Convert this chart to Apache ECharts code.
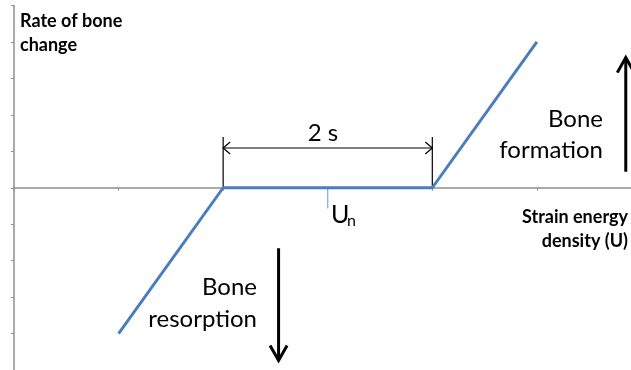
<!DOCTYPE html>
<html>
<head>
<meta charset="utf-8">
<script src="https://cdn.jsdelivr.net/npm/echarts@6/dist/echarts.min.js"></script>
<style>
  html, body { margin: 0; padding: 0; background: #fff; }
  #chart { width: 631px; height: 370px; }
</style>
</head>
<body>
<div id="chart"></div>
<script>
// response curve (strain energy density vs rate of bone change)
let curve_x = [1, 2, 4, 5];
let curve_y = [-4, 0, 0, 4];

// reference value U_n marker
let un_x = [3, 3];
let un_y = [0, -0.57];

// "2 s" dead zone: bracket lines and double arrow
let bracket_segments = [[2, 0, 2, 1.39], [4, 0, 4, 1.39]];
let span_arrow = [[2, 1.09, 4, 1.09]];

// formation / resorption arrows (x1, y1, x2, y2), head at second point
let big_arrows = [[5.85, 0.44, 5.85, 3.57], [2.53, -1.66, 2.53, -4.74]];

let axis_color = '#8f8f8f';
let font = 'Lato';

function seg_renderer(head_len, head_w, line_w, both_heads, color) {
    return function (params, api) {
        let p1 = api.coord([api.value(0), api.value(1)]);
        let p2 = api.coord([api.value(2), api.value(3)]);
        let dx = p2[0] - p1[0], dy = p2[1] - p1[1];
        let len = Math.sqrt(dx * dx + dy * dy);
        let ux = dx / len, uy = dy / len;
        let nx = -uy, ny = ux;
        let style = {stroke: color, lineWidth: line_w, fill: null, lineJoin: 'miter', lineCap: 'butt'};
        let children = [{type: 'line', shape: {x1: p1[0], y1: p1[1], x2: p2[0], y2: p2[1]}, style: style}];
        let head = function (tip, sx, sy) {
            return {
                type: 'polyline',
                shape: {points: [
                    [tip[0] - sx * head_len + nx * head_w, tip[1] - sy * head_len + ny * head_w],
                    [tip[0], tip[1]],
                    [tip[0] - sx * head_len - nx * head_w, tip[1] - sy * head_len - ny * head_w]
                ]},
                style: style
            };
        };
        if (head_len > 0) {
            children.push(head(p2, ux, uy));
            if (both_heads) children.push(head(p1, -ux, -uy));
        }
        return {type: 'group', children: children};
    };
}

let myChart = echarts.init(document.getElementById('chart'));
let option = {
    animation: false,
    grid: {left: 14, right: 0, top: 5.5, bottom: -2.5},
    xAxis: {
        type: 'value',
        min: 0,
        max: 5.9,
        interval: 1,
        axisLine: {onZero: true, lineStyle: {color: axis_color, width: 1.5}},
        axisTick: {show: true, length: 3, lineStyle: {color: axis_color}},
        axisLabel: {show: false},
        splitLine: {show: false}
    },
    yAxis: {
        type: 'value',
        min: -5,
        max: 5,
        interval: 1,
        axisLine: {show: true, onZero: false, lineStyle: {color: axis_color, width: 1.5}},
        axisTick: {show: true, length: 3, lineStyle: {color: axis_color}},
        axisLabel: {show: false},
        splitLine: {show: false}
    },
    series: [
        {
            name: 'curve',
            type: 'line',
            data: curve_x.map((x, i) => [x, curve_y[i]]),
            symbol: 'none',
            lineStyle: {color: '#4a7ebb', width: 3},
            z: 3
        },
        {
            name: 'Un',
            type: 'line',
            data: un_x.map((x, i) => [x, un_y[i]]),
            symbol: 'none',
            lineStyle: {color: '#8aa6d2', width: 1.2},
            z: 2
        },
        {
            name: 'brackets',
            type: 'custom',
            renderItem: seg_renderer(0, 0, 1.2, false, '#000'),
            encode: {x: [0, 2], y: [1, 3]},
            data: bracket_segments,
            z: 1
        },
        {
            name: 'span',
            type: 'custom',
            renderItem: seg_renderer(7, 6, 1.2, true, '#000'),
            encode: {x: [0, 2], y: [1, 3]},
            data: span_arrow
        },
        {
            name: 'arrows',
            type: 'custom',
            renderItem: seg_renderer(15, 8.5, 3, false, '#000'),
            encode: {x: [0, 2], y: [1, 3]},
            data: big_arrows,
            clip: false
        }
    ],
    graphic: [
        {type: 'text', x: 20, y: 21.2, style: {text: 'Rate of bone', font: 'bold 18px ' + font, fill: '#000', verticalAlign: 'middle'}},
        {type: 'text', x: 20, y: 44.7, style: {text: 'change', font: 'bold 18px ' + font, fill: '#000', verticalAlign: 'middle'}},
        {type: 'text', x: 628, y: 217.2, style: {text: 'Strain energy', font: 'bold 18px ' + font, fill: '#000', align: 'right', verticalAlign: 'middle'}},
        {type: 'text', x: 628, y: 241.2, style: {text: 'density (U)', font: 'bold 18px ' + font, fill: '#000', align: 'right', verticalAlign: 'middle'}},
        {type: 'text', x: 603, y: 119.3, style: {text: 'Bone', font: '24px ' + font, fill: '#000', align: 'right', verticalAlign: 'middle'}},
        {type: 'text', x: 603, y: 150.3, style: {text: 'formation', font: '24px ' + font, fill: '#000', align: 'right', verticalAlign: 'middle'}},
        {type: 'text', x: 257, y: 287.3, style: {text: 'Bone', font: '24px ' + font, fill: '#000', align: 'right', verticalAlign: 'middle'}},
        {type: 'text', x: 257, y: 319.3, style: {text: 'resorption', font: '24px ' + font, fill: '#000', align: 'right', verticalAlign: 'middle'}},
        {type: 'text', x: 323, y: 133.3, style: {text: '2 s', font: '24px ' + font, fill: '#000', align: 'center', verticalAlign: 'middle'}},
        {type: 'text', x: 331, y: 215, style: {text: 'U', font: '25px ' + font, fill: '#000', verticalAlign: 'middle'}},
        {type: 'text', x: 347, y: 220.5, style: {text: 'n', font: '16px ' + font, fill: '#000', verticalAlign: 'middle'}}
    ]
};
myChart.setOption(option);
</script>
</body>
</html>
